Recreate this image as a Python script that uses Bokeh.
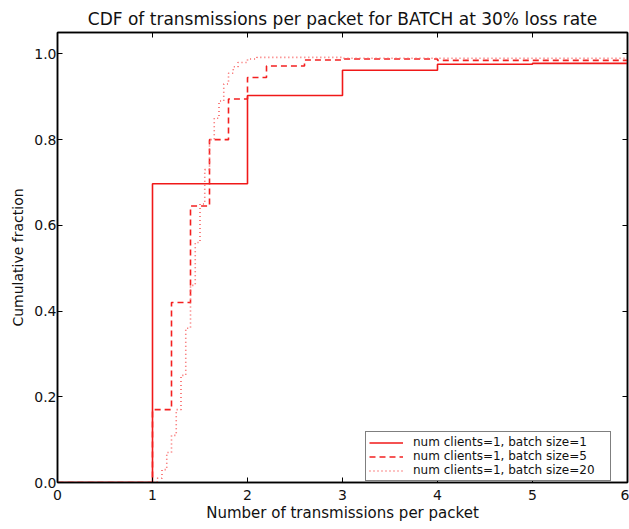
from bokeh.plotting import figure
from bokeh.models import LinearAxis, FixedTicker, Legend, LegendItem, CustomJSTickFormatter
from bokeh.embed import file_html
from bokeh.resources import INLINE

# batch size = 1
x_b1 = [0, 1, 2, 3, 4, 5, 6]
y_b1 = [0.0, 0.697, 0.903, 0.962, 0.976, 0.978, 0.978]

# batch size = 5
x_b5 = [0, 1.0, 1.2, 1.4, 1.6, 1.8, 2.0, 2.2, 2.6, 3.0, 4.0, 6.0]
y_b5 = [0.0, 0.17, 0.42, 0.645, 0.80, 0.895, 0.945, 0.972, 0.986, 0.988, 0.985, 0.985]

# batch size = 20
x_b20 = [0, 1.05, 1.10, 1.15, 1.20, 1.25, 1.30, 1.35, 1.40, 1.45, 1.50, 1.55,
         1.60, 1.65, 1.70, 1.75, 1.80, 1.85, 1.90, 2.00, 2.10, 3.0, 6.0]
y_b20 = [0.0, 0.01, 0.03, 0.07, 0.11, 0.17, 0.25, 0.36, 0.46, 0.56, 0.65, 0.73,
         0.80, 0.85, 0.89, 0.93, 0.955, 0.97, 0.98, 0.988, 0.992, 0.99, 0.985]

labels = ["num clients=1, batch size=1",
          "num clients=1, batch size=5",
          "num clients=1, batch size=20"]
x_ticks = [0, 1, 2, 3, 4, 5, 6]
y_ticks = [0.0, 0.2, 0.4, 0.6, 0.8, 1.0]

FONT = "DejaVu Sans"

p = figure(width=629, height=529, x_range=(0, 6), y_range=(0, 1.05),
           output_backend="svg", toolbar_location=None,
           title="CDF of transmissions per packet for BATCH at 30% loss rate",
           min_border_left=57, min_border_right=2, min_border_top=32, min_border_bottom=47)
p.grid.visible = False
p.outline_line_color = "black"
p.outline_line_width = 1.5

p.title.text_font = FONT
p.title.text_font_size = "17px"
p.title.text_font_style = "normal"
p.title.align = "center"
p.title.vertical_align = "top"
p.title.text_color = "#111111"
p.title.standoff = 4

for ax in [p.xaxis[0], p.yaxis[0]]:
    ax.major_label_text_font = FONT
    ax.major_label_text_font_size = "14px"
    ax.major_label_text_color = "#111111"
    ax.axis_label_text_font = FONT
    ax.axis_label_text_font_size = "14px"
    ax.axis_label_text_font_style = "normal"
    ax.axis_label_text_color = "#111111"
    ax.major_tick_in = 5
    ax.major_tick_out = 0
    ax.minor_tick_line_color = None
    ax.axis_line_color = "black"
    ax.axis_line_width = 1.5

p.xaxis[0].ticker = FixedTicker(ticks=x_ticks)
p.yaxis[0].ticker = FixedTicker(ticks=y_ticks)
p.yaxis[0].formatter = CustomJSTickFormatter(code="return tick.toFixed(1);")
p.xaxis[0].axis_label = "Number of transmissions per packet"
p.yaxis[0].axis_label = "Cumulative fraction"
p.xaxis[0].axis_label_text_font_size = "15px"
p.xaxis[0].axis_label_standoff = 1
p.yaxis[0].axis_label_standoff = 5
p.xaxis[0].major_label_standoff = 7
p.yaxis[0].major_label_standoff = 1

blank = CustomJSTickFormatter(code="return '';")
top = LinearAxis(ticker=FixedTicker(ticks=x_ticks), formatter=blank,
                 major_tick_in=5, major_tick_out=0, minor_tick_line_color=None,
                 axis_line_width=1.5, major_label_standoff=0)
right = LinearAxis(ticker=FixedTicker(ticks=y_ticks), formatter=blank,
                   major_tick_in=5, major_tick_out=0, minor_tick_line_color=None,
                   axis_line_width=1.5, major_label_standoff=0)
p.add_layout(top, "above")
p.add_layout(right, "right")

r1 = p.step(x_b1, y_b1, mode="after", line_color="#f01818", line_width=1.6)
r2 = p.step(x_b5, y_b5, mode="after", line_color="#f42020", line_width=1.6, line_dash="6 4")
r3 = p.step(x_b20, y_b20, mode="after", line_color="#f86060", line_width=1.6, line_dash="1 3")

legend = Legend(items=[LegendItem(label=labels[0], renderers=[r1]),
                       LegendItem(label=labels[1], renderers=[r2]),
                       LegendItem(label=labels[2], renderers=[r3])],
                location=(308, 1))
legend.label_text_font = FONT
legend.label_text_font_size = "12px"
legend.label_text_color = "#111111"
legend.label_height = 11
legend.glyph_height = 11
legend.glyph_width = 34
legend.label_width = 194
legend.label_standoff = 10
legend.spacing = 0
legend.padding = 3
legend.margin = 0
legend.border_line_color = "black"
legend.border_line_width = 1.2
legend.background_fill_alpha = 1
p.add_layout(legend, "center")

open("out.html", "w").write(file_html(p, INLINE))
